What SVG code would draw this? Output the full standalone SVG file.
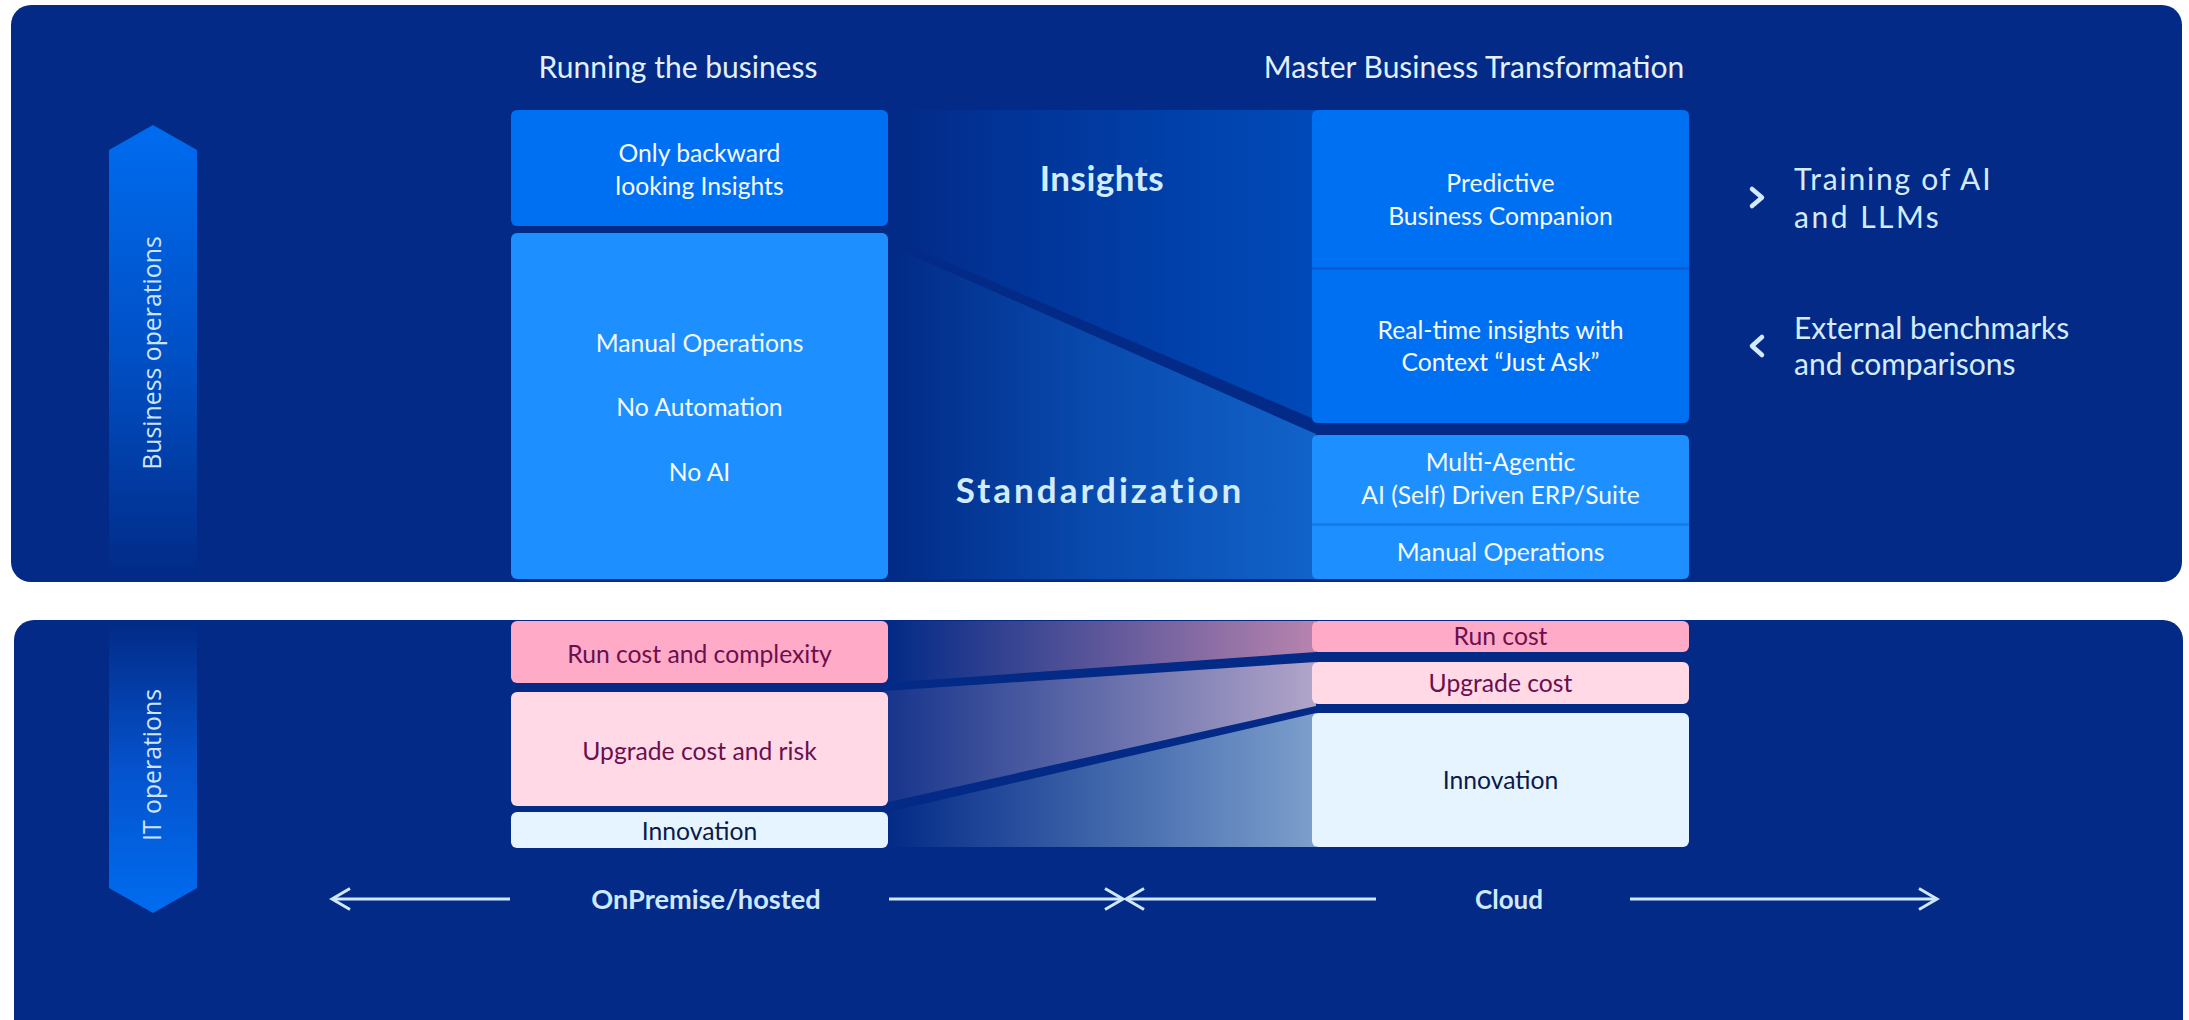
<svg xmlns="http://www.w3.org/2000/svg" width="2189" height="1020" viewBox="0 0 2189 1020">
<defs>
<style>
.t{font-family:Lato,"Liberation Sans",sans-serif;}
.w{fill:#f4f9ff;font-size:24.7px;text-anchor:middle;}
.hd{fill:#e2f0ff;font-size:30px;text-anchor:middle;}
.side{fill:#d4eaff;font-size:30px;}
.big{fill:#d2ecff;font-size:35px;font-weight:bold;text-anchor:middle;}
.pk{fill:#6b0f4f;font-size:24.7px;text-anchor:middle;}
.nv{fill:#0b1a4c;font-size:24.7px;text-anchor:middle;}
.ax{fill:#cfe8ff;font-size:26px;font-weight:bold;text-anchor:middle;}
.ax27{font-size:27.2px;}
.rot{font-family:"Open Sans","DejaVu Sans",sans-serif;fill:#cde5ff;font-size:24.8px;text-anchor:middle;}
.arw{stroke:#cfe8ff;stroke-width:3;fill:none;}
.chev{stroke:#d4eaff;stroke-width:4.5;fill:none;stroke-linecap:round;stroke-linejoin:round;}
</style>
<linearGradient id="gUp" x1="0" y1="125" x2="0" y2="580" gradientUnits="userSpaceOnUse">
<stop offset="0" stop-color="#006cf0"/>
<stop offset="0.5" stop-color="#0050c6"/>
<stop offset="1" stop-color="#022a86"/>
</linearGradient>
<linearGradient id="gDown" x1="0" y1="620" x2="0" y2="913" gradientUnits="userSpaceOnUse">
<stop offset="0" stop-color="#022a86"/>
<stop offset="0.5" stop-color="#0552cc"/>
<stop offset="1" stop-color="#006cf0"/>
</linearGradient>
<linearGradient id="gIns" x1="888" y1="0" x2="1312" y2="0" gradientUnits="userSpaceOnUse">
<stop offset="0" stop-color="#022a86"/>
<stop offset="0.15" stop-color="#022f90"/>
<stop offset="1" stop-color="#004ab9"/>
</linearGradient>
<linearGradient id="gStd" x1="888" y1="0" x2="1312" y2="0" gradientUnits="userSpaceOnUse">
<stop offset="0" stop-color="#022a86"/>
<stop offset="0.45" stop-color="#0848ab"/>
<stop offset="1" stop-color="#1163ca"/>
</linearGradient>
<linearGradient id="gF1" x1="888" y1="0" x2="1312" y2="0" gradientUnits="userSpaceOnUse">
<stop offset="0" stop-color="#022a86"/>
<stop offset="1" stop-color="#b683ae"/>
</linearGradient>
<linearGradient id="gF2" x1="888" y1="0" x2="1312" y2="0" gradientUnits="userSpaceOnUse">
<stop offset="0" stop-color="#17358c"/>
<stop offset="1" stop-color="#b0a4c8"/>
</linearGradient>
<linearGradient id="gF3" x1="888" y1="0" x2="1312" y2="0" gradientUnits="userSpaceOnUse">
<stop offset="0" stop-color="#032b87"/>
<stop offset="1" stop-color="#7b9ecc"/>
</linearGradient>
</defs>

<g id="panels">
<rect id="panel-business" x="11" y="5" width="2171" height="577" rx="20" fill="#022a86"/>
<rect id="panel-it" x="14" y="620" width="2169" height="430" rx="20" fill="#022a86"/>
</g>

<g id="side-arrows">
<g id="arrow-business-operations">
<polygon points="109,150 153,125 197,150 197,580 109,580" fill="url(#gUp)"/>
<text class="rot" transform="translate(161,353) rotate(-90)">Business operations</text>
</g>
<g id="arrow-it-operations">
<polygon points="109,620 197,620 197,888 153,913 109,888" fill="url(#gDown)"/>
<text class="rot" transform="translate(161,765) rotate(-90)">IT operations</text>
</g>
</g>

<g id="connectors">
<polygon id="flow-insights" points="884,110 1316,110 1316,420 884,235" fill="url(#gIns)"/>
<polygon id="flow-standardization" points="884,243 1316,434 1316,579 884,579" fill="url(#gStd)"/>
<polygon id="flow-runcost" points="884,621 1316,621 1316,652 884,683" fill="url(#gF1)"/>
<polygon id="flow-upgrade" points="884,691 1316,662 1316,706 884,803" fill="url(#gF2)"/>
<polygon id="flow-innovation" points="884,813 1316,713 1316,847 884,847" fill="url(#gF3)"/>
<g id="axis-onpremise">
<line class="arw" x1="333" y1="899" x2="510" y2="899"/>
<polyline class="arw" points="350,888.5 332,899 350,909.5"/>
<line class="arw" x1="889" y1="899" x2="1122" y2="899"/>
<polyline class="arw" points="1105,888.5 1123,899 1105,909.5"/>
</g>
<g id="axis-cloud">
<line class="arw" x1="1127" y1="899" x2="1376" y2="899"/>
<polyline class="arw" points="1144,888.5 1126,899 1144,909.5"/>
<line class="arw" x1="1630" y1="899" x2="1936" y2="899"/>
<polyline class="arw" points="1919,888.5 1937,899 1919,909.5"/>
</g>
</g>

<g id="headers">
<text id="h-running" class="t hd" x="678" y="78">Running the business</text>
<text id="h-master" class="t hd" x="1474" y="78">Master Business Transformation</text>
</g>

<g id="node-backward">
<rect x="511" y="110" width="377" height="116" rx="6" fill="#0070f2"/>
<text class="t w" x="699.5" y="162">Only backward</text>
<text class="t w" x="699.5" y="195">looking Insights</text>
</g>
<g id="node-manual-left">
<rect x="511" y="233" width="377" height="346" rx="6" fill="#1e8fff"/>
<text class="t w" x="699.5" y="352">Manual Operations</text>
<text class="t w" x="699.5" y="416">No Automation</text>
<text class="t w" x="699.5" y="481">No AI</text>
</g>

<g id="label-insights"><text class="t big" x="1102" y="191" letter-spacing="0.5">Insights</text></g>
<g id="label-standardization"><text class="t big" x="1100" y="503" letter-spacing="3">Standardization</text></g>

<g id="node-predictive">
<path d="M1318,110 H1683 Q1689,110 1689,116 V268 H1312 V116 Q1312,110 1318,110 Z" fill="#0070f2"/>
<text class="t w" x="1500.5" y="192">Predictive</text>
<text class="t w" x="1500.5" y="225">Business Companion</text>
</g>
<g id="node-realtime">
<path d="M1312,268 H1689 V417 Q1689,423 1683,423 H1318 Q1312,423 1312,417 Z" fill="#0070f2"/>
<line x1="1312" y1="268.5" x2="1689" y2="268.5" stroke="#0a5bd2" stroke-width="2.5"/>
<text class="t w" x="1500.5" y="339">Real-time insights with</text>
<text class="t w" x="1500.5" y="371">Context “Just Ask”</text>
</g>
<g id="node-multiagentic">
<path d="M1318,435 H1683 Q1689,435 1689,441 V524 H1312 V441 Q1312,435 1318,435 Z" fill="#1e8fff"/>
<text class="t w" x="1500.5" y="471">Multi-Agentic</text>
<text class="t w" x="1500.5" y="504">AI (Self) Driven ERP/Suite</text>
</g>
<g id="node-manual-right">
<path d="M1312,524 H1689 V573 Q1689,579 1683,579 H1318 Q1312,579 1312,573 Z" fill="#1e8fff"/>
<line x1="1312" y1="524.5" x2="1689" y2="524.5" stroke="#1877e4" stroke-width="2.5"/>
<text class="t w" x="1500.5" y="561">Manual Operations</text>
</g>

<g id="side-notes">
<g id="note-training">
<polyline class="chev" points="1752,189 1762,197.5 1752,206"/>
<text class="t side" x="1794" y="190" letter-spacing="1.8">Training of AI</text>
<text class="t side" x="1794" y="228" letter-spacing="2.5">and LLMs</text>
</g>
<g id="note-benchmarks">
<polyline class="chev" points="1762,337 1752,346 1762,355"/>
<text class="t side" x="1794" y="339">External benchmarks</text>
<text class="t side" x="1794" y="375">and comparisons</text>
</g>
</g>

<g id="node-runcost-left">
<rect x="511" y="621" width="377" height="62" rx="6" fill="#ffabc8"/>
<text class="t pk" x="699.5" y="663">Run cost and complexity</text>
</g>
<g id="node-upgrade-left">
<rect x="511" y="692" width="377" height="114" rx="6" fill="#ffd9e6"/>
<text class="t pk" x="699.5" y="760">Upgrade cost and risk</text>
</g>
<g id="node-innovation-left">
<rect x="511" y="812" width="377" height="36" rx="6" fill="#e6f4ff"/>
<text class="t nv" x="699.5" y="840">Innovation</text>
</g>
<g id="node-runcost-right">
<rect x="1312" y="621" width="377" height="31" rx="6" fill="#ffabc8"/>
<text class="t pk" x="1500.5" y="645">Run cost</text>
</g>
<g id="node-upgrade-right">
<rect x="1312" y="662" width="377" height="42" rx="6" fill="#ffd9e6"/>
<text class="t pk" x="1500.5" y="692">Upgrade cost</text>
</g>
<g id="node-innovation-right">
<rect x="1312" y="713" width="377" height="134" rx="6" fill="#e6f4ff"/>
<text class="t nv" x="1500.5" y="789">Innovation</text>
</g>

<g id="axis-labels">
<text class="t ax ax27" x="706" y="909">OnPremise/hosted</text>
<text class="t ax" x="1509" y="909">Cloud</text>
</g>
</svg>
